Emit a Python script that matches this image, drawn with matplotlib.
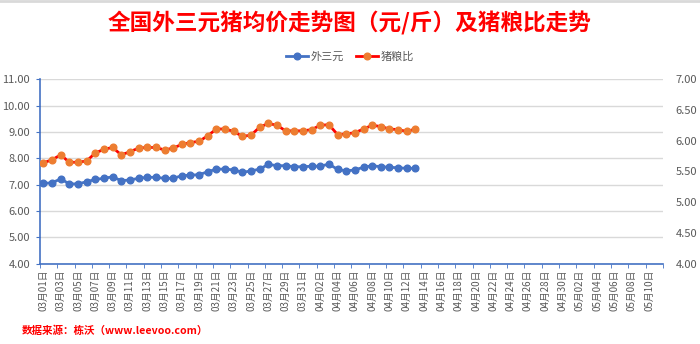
import matplotlib
matplotlib.use('Agg')
import matplotlib.pyplot as plt
import numpy as np
import datetime as dt

plt.rcParams['font.family'] = ['Noto Sans CJK SC', 'DejaVu Sans']

# categories: 03-01 .. 05-11
start = dt.date(2021, 3, 1)
dates = [start + dt.timedelta(days=i) for i in range(72)]
date_labels = [d.strftime('%m月%d日') for d in dates]

# 外三元 price (yuan/jin), left axis
price = [7.05, 7.07, 7.22, 7.03, 7.03, 7.11, 7.20, 7.24, 7.30, 7.15,
         7.18, 7.24, 7.28, 7.28, 7.24, 7.24, 7.34, 7.36, 7.38, 7.49,
         7.59, 7.59, 7.56, 7.47, 7.52, 7.59, 7.77, 7.72, 7.72, 7.68,
         7.68, 7.70, 7.70, 7.78, 7.58, 7.52, 7.56, 7.66, 7.72, 7.68,
         7.66, 7.64, 7.62, 7.62]

# 猪粮比, right axis
ratio = [5.64, 5.69, 5.77, 5.65, 5.65, 5.67, 5.80, 5.86, 5.89, 5.77,
         5.82, 5.88, 5.89, 5.89, 5.85, 5.88, 5.94, 5.97, 5.99, 6.08,
         6.19, 6.19, 6.15, 6.07, 6.09, 6.22, 6.28, 6.25, 6.16, 6.16,
         6.16, 6.18, 6.25, 6.26, 6.10, 6.11, 6.13, 6.19, 6.25, 6.23,
         6.19, 6.18, 6.15, 6.19]

left_ticks = [4, 5, 6, 7, 8, 9, 10, 11]
right_ticks = [4.0, 4.5, 5.0, 5.5, 6.0, 6.5, 7.0]

blue = '#4472C4'
orange = '#ED7D31'
grey = '#595959'

fig = plt.figure(figsize=(7, 3.44), dpi=100)
ax = fig.add_axes([0.057, 0.233, 0.890, 0.537])
ax2 = ax.twinx()

x_price = np.arange(len(price))
x_ratio = np.arange(len(ratio))

l1, = ax.plot(x_price, price, color=blue, lw=2.0, marker='o', ms=4.8,
              mfc=blue, mec=blue, label='外三元', zorder=3)
l2, = ax2.plot(x_ratio, ratio, color='#FF0000', lw=2.0, marker='o', ms=4.8,
               mfc=orange, mec=orange, label='猪粮比', zorder=3)

ax.set_ylim(4, 11)
ax.set_yticks(left_ticks)
ax.set_yticklabels(['%.2f' % v for v in left_ticks], fontsize=8, color=grey)
ax2.set_ylim(4, 7)
ax2.set_yticks(right_ticks)
ax2.set_yticklabels(['%.2f' % v for v in right_ticks], fontsize=8, color=grey)

ax.set_xlim(-0.4, 71.5)
ax.set_xticks(np.arange(0, 72, 2))
ax.set_xticklabels(date_labels[::2], rotation=90, fontsize=7, color=grey)
ax.set_xticks(np.arange(-0.4, 72, 2), minor=True)
ax.tick_params(axis='x', which='major', length=0, pad=4)
ax.tick_params(axis='x', which='minor', length=3, color=blue, direction='out')
ax.tick_params(axis='y', length=3, color=blue, pad=4)
ax2.tick_params(axis='y', length=0, pad=9)

ax.grid(axis='y', color='#D9D9D9', lw=1)
ax.set_axisbelow(True)
for s in ['top', 'right']:
    ax.spines[s].set_visible(False)
for s in ['top', 'right', 'left', 'bottom']:
    ax2.spines[s].set_visible(False)
ax.spines['left'].set_color(blue)
ax.spines['bottom'].set_color(blue)
ax.spines['left'].set_linewidth(1.2)
ax.spines['bottom'].set_linewidth(1.2)

fig.text(0.5, 0.933, '全国外三元猪均价走势图（元/斤）及猪粮比走势', ha='center',
         va='center', fontsize=16.3, fontweight='bold', color='#FF0000')
fig.legend(handles=[l1, l2], loc='center', bbox_to_anchor=(0.5, 0.835), ncol=2,
           frameon=False, fontsize=8, labelcolor=grey, handlelength=2.0,
           columnspacing=1.0, handletextpad=0.3)
fig.text(0.031, 0.04, '数据来源：栋沃（www.leevoo.com）', ha='left', va='center',
         fontsize=7.6, fontweight='bold', color='#FF0000')
fig.add_artist(plt.Line2D([0, 1], [0.997, 0.997], color='#D9D9D9', lw=2))

fig.savefig('out.png', dpi=100)
